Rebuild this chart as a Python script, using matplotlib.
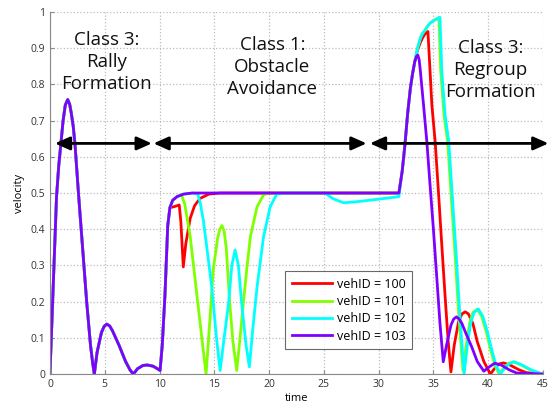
import numpy as np
import matplotlib
matplotlib.use('Agg')
import matplotlib.pyplot as plt
from matplotlib.ticker import FormatStrFormatter

plt.rcParams['font.family'] = ['Open Sans', 'DejaVu Sans']

# shared start of every trajectory (all four vehicles overlap here)
base_t = [0, 0.3, 0.6, 0.8, 1.0, 1.2, 1.4, 1.62, 1.8, 1.95, 2.12, 2.28, 2.6, 2.95, 3.35,
          3.7, 3.9, 4.05, 4.3, 4.7, 4.95, 5.18, 5.45, 5.7, 6.3, 6.9, 7.3, 7.6, 8.0, 8.5,
          8.9, 9.4, 9.8, 10.05, 10.25, 10.5, 10.75, 10.95]
base_v = [0, 0.245, 0.49, 0.575, 0.637, 0.7, 0.743, 0.758, 0.745, 0.72, 0.685, 0.637, 0.5,
          0.36, 0.2, 0.08, 0.03, 0.0, 0.06, 0.115, 0.132, 0.138, 0.133, 0.12, 0.08, 0.035,
          0.012, 0.0, 0.015, 0.024, 0.025, 0.022, 0.015, 0.01, 0.08, 0.22, 0.41, 0.46]

# vehID = 100
t100 = base_t + [11.3, 11.8, 11.95, 12.17, 12.4, 12.8, 13.2, 13.7, 14.5, 15.5, 31.85,
                 32.15, 32.4, 32.65, 32.9, 33.1, 33.3, 33.55, 33.8, 34.0, 34.2, 34.5, 34.86,
                 35.16, 35.46, 35.8, 36.1, 36.35, 36.6, 36.9, 37.3, 37.6, 37.9, 38.2, 38.6,
                 39.0, 39.6, 40.2, 40.7, 41.0, 41.4, 42.0, 42.8, 43.5, 45]
v100 = base_v + [0.462, 0.467, 0.42, 0.296, 0.36, 0.43, 0.465, 0.485, 0.497, 0.5, 0.5,
                 0.56, 0.633, 0.72, 0.79, 0.83, 0.863, 0.895, 0.915, 0.928, 0.938, 0.946, 0.743,
                 0.642, 0.503, 0.34, 0.2, 0.09, 0.006, 0.08, 0.145, 0.166, 0.172, 0.166, 0.14,
                 0.09, 0.035, 0.0, 0.02, 0.028, 0.031, 0.025, 0.012, 0.004, 0]

# vehID = 101
t101 = base_t + [11.2, 11.6, 12.0, 12.3, 12.8, 13.5, 13.9, 14.25, 14.6, 14.9, 15.3, 15.5,
                 15.7, 15.9, 16.1, 16.4, 16.7, 17.05, 17.35, 17.65, 18.0, 18.3, 18.9, 19.5,
                 20.0, 31.85, 32.15, 32.4, 32.65, 32.9, 33.1, 33.3, 33.55, 33.8, 34.0, 34.25,
                 34.45, 34.7, 35.0, 35.4, 35.5, 35.67, 35.97, 36.3, 36.6, 37.0, 37.3, 37.7,
                 38.0, 38.3, 38.6, 39.0, 39.4, 39.8, 40.2, 40.6, 41.0, 41.5, 41.9, 42.3,
                 43.0, 43.8, 44.6, 45]
v101 = base_v + [0.48, 0.49, 0.495, 0.47, 0.38, 0.195, 0.09, 0.0, 0.15, 0.287, 0.375, 0.4,
                 0.41, 0.395, 0.345, 0.2, 0.09, 0.01, 0.1, 0.195, 0.3, 0.38, 0.462, 0.495,
                 0.5, 0.5, 0.56, 0.633, 0.72, 0.79, 0.83, 0.863, 0.9, 0.927, 0.94, 0.95,
                 0.96, 0.969, 0.976, 0.982, 0.985, 0.835, 0.715, 0.642, 0.503, 0.32, 0.17, 0.01,
                 0.08, 0.14, 0.17, 0.179, 0.16, 0.12, 0.07, 0.025, 0.0, 0.02, 0.03, 0.034,
                 0.025, 0.012, 0.003, 0]

# vehID = 102
t102 = base_t + [11.2, 11.6, 12.2, 13.0, 13.5, 13.7, 14.0, 14.4, 14.77, 15.2, 15.53, 15.9,
                 16.3, 16.6, 16.9, 17.2, 17.5, 17.9, 18.2, 18.5, 18.9, 19.5, 20.1, 20.7,
                 21.5, 25.1, 25.8, 26.8, 28.0, 30.0, 31.85, 32.15, 32.4, 32.65, 32.9, 33.1,
                 33.3, 33.55, 33.8, 34.0, 34.25, 34.45, 34.7, 35.0, 35.4, 35.6, 35.77, 36.07,
                 36.4, 36.7, 37.1, 37.4, 37.8, 38.1, 38.4, 38.7, 39.1, 39.5, 39.9, 40.3,
                 40.7, 41.1, 41.6, 42.0, 42.4, 43.1, 43.9, 44.7, 45]
v102 = base_v + [0.48, 0.49, 0.497, 0.5, 0.497, 0.475, 0.425, 0.33, 0.24, 0.1, 0.01, 0.1,
                 0.195, 0.3, 0.343, 0.3, 0.195, 0.08, 0.02, 0.12, 0.24, 0.38, 0.462, 0.497,
                 0.5, 0.5, 0.485, 0.473, 0.476, 0.483, 0.49, 0.56, 0.633, 0.72, 0.79, 0.83,
                 0.863, 0.9, 0.927, 0.94, 0.95, 0.96, 0.969, 0.976, 0.982, 0.985, 0.835, 0.715,
                 0.642, 0.503, 0.32, 0.17, 0.0, 0.08, 0.14, 0.17, 0.18, 0.16, 0.12, 0.07,
                 0.025, 0.0, 0.02, 0.03, 0.034, 0.025, 0.012, 0.003, 0]

# vehID = 103
t103 = base_t + [11.2, 11.6, 12.2, 13.0, 31.85, 32.15, 32.4, 32.65, 32.9, 33.1, 33.3, 33.45,
                 33.58, 33.7, 33.8, 34.1, 34.4, 34.7, 35.0, 35.3, 35.6, 35.9, 36.2, 36.6,
                 36.85, 37.1, 37.35, 37.6, 38.0, 38.5, 39.0, 39.6, 40.1, 40.6, 41.2, 41.9,
                 42.6, 45]
v103 = base_v + [0.48, 0.49, 0.497, 0.5, 0.5, 0.56, 0.633, 0.72, 0.79, 0.83, 0.863, 0.877,
                 0.881, 0.868, 0.84, 0.743, 0.642, 0.52, 0.4, 0.27, 0.14, 0.034, 0.08, 0.135,
                 0.152, 0.158, 0.152, 0.14, 0.11, 0.075, 0.035, 0.008, 0.02, 0.03, 0.025, 0.012,
                 0.003, 0]

labels = ['vehID = 100', 'vehID = 101', 'vehID = 102', 'vehID = 103']
colors = ['#ff0000', '#80ff00', '#00ffff', '#8000ff']

# phase annotations
phase_text = ['Class 3:\nRally\nFormation', 'Class 1:\nObstacle\nAvoidance', 'Class 3:\nRegroup\nFormation']
phase_x = [5.2, 20.3, 40.2]
phase_y = [0.862, 0.848, 0.84]
arrow_y = 0.637
arrow_spans = [(0.45, 9.3), (9.45, 28.9), (29.2, 45.5)]

fig = plt.figure(figsize=(5.49, 4.12), dpi=100)
ax = fig.add_axes([0.091, 0.092, 0.898, 0.879])

for t, v, c, lab in zip([t100, t101, t102, t103], [v100, v101, v102, v103], colors, labels):
    ax.plot(t, v, color=c, lw=2, label=lab, solid_joinstyle='round')

for (x0, x1) in arrow_spans:
    ax.annotate('', xy=(x1, arrow_y), xytext=(x0, arrow_y),
                arrowprops=dict(arrowstyle='<|-|>,head_length=0.9,head_width=0.4',
                                color='black', lw=2, shrinkA=0, shrinkB=0),
                annotation_clip=False)

for txt, x, y in zip(phase_text, phase_x, phase_y):
    ax.text(x, y, txt, ha='center', va='center', fontsize=13.5, linespacing=1.3, color='#111111')

ax.set_xlim(0, 45)
ax.set_ylim(0, 1)
ax.set_xticks(np.arange(0, 46, 5))
ax.set_yticks(np.arange(0, 1.01, 0.1))
ax.yaxis.set_major_formatter(FormatStrFormatter('%g'))
ax.grid(True, linestyle=':', color='#bbbbbb', lw=0.9)
ax.set_axisbelow(True)
for s in ['top', 'right']:
    ax.spines[s].set_visible(False)
for s in ['left', 'bottom']:
    ax.spines[s].set_color('#888888')
ax.tick_params(direction='in', length=3, color='#888888', labelsize=7.5, labelcolor='#333333')
ax.set_xlabel('time', fontsize=8, labelpad=2)
ax.set_ylabel('velocity', fontsize=8, labelpad=4)

leg = ax.legend(loc='lower left', bbox_to_anchor=(0.465, 0.052), fontsize=9,
                handlelength=3.2, frameon=True, fancybox=False, borderpad=0.5,
                labelspacing=0.35, handletextpad=0.4)
leg.get_frame().set_edgecolor('#444444')
leg.get_frame().set_linewidth(0.8)

plt.savefig('out.png', dpi=100)
